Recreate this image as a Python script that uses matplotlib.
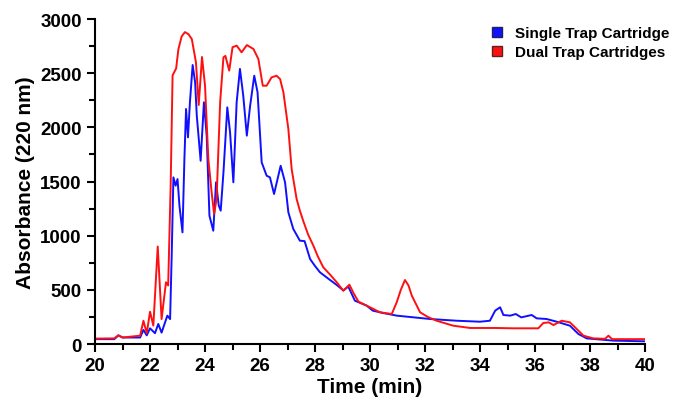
import matplotlib.pyplot as plt
import numpy as np
from matplotlib.lines import Line2D

# Dual trap cartridges (red)
t_dual = [20.0, 20.7, 20.85, 21.0, 21.64, 21.76, 21.88, 22.0, 22.12, 22.28, 22.42, 22.58,
          22.66, 22.75, 22.82, 22.95, 23.03, 23.15, 23.27, 23.4, 23.52, 23.67, 23.77, 23.89, 24.0, 24.12,
          24.24, 24.33, 24.42, 24.55, 24.67, 24.74, 24.88, 25.0, 25.15, 25.33, 25.52, 25.76,
          25.94, 26.1, 26.24, 26.42, 26.6, 26.73, 26.85, 27.03, 27.15, 27.33, 27.45, 27.58,
          27.75, 27.94, 28.1, 28.3, 28.55, 28.79, 29.03, 29.25, 29.4, 29.58, 30.0, 30.36, 30.79,
          30.97, 31.12, 31.27, 31.4, 31.52, 31.82, 32.1, 32.42, 33.03, 33.64, 34.6, 35.2, 36.12,
          36.3, 36.5, 36.67, 36.97, 37.27, 37.52, 37.76, 38.12, 38.55, 38.67, 38.8, 40.0]
a_dual = [50, 52, 80, 60, 77, 215, 100, 298, 170, 900, 230, 570,
          540, 1460, 2480, 2545, 2720, 2840, 2880, 2860, 2815, 2600, 2207, 2650, 2385, 1708,
          1400, 1200, 1340, 2234, 2647, 2660, 2524, 2740, 2755, 2693, 2760, 2724,
          2631, 2385, 2385, 2462, 2477, 2446, 2324, 1985, 1615, 1340, 1230, 1130,
          1010, 908, 810, 708, 640, 570, 492, 548, 470, 391, 339, 293, 277,
          385, 500, 591, 540, 446, 293, 250, 215, 169, 148, 148, 145, 145,
          194, 200, 175, 215, 200, 138, 77, 52, 48, 77, 45, 45]

# Single trap cartridge (blue)
t_single = [20.0, 20.7, 20.85, 21.0, 21.64, 21.76, 21.88, 22.0, 22.18, 22.3, 22.42, 22.63,
            22.73, 22.79, 22.85, 22.93, 23.0, 23.07, 23.18, 23.25, 23.31, 23.38, 23.45, 23.55,
            23.64, 23.7, 23.84, 23.96, 24.06, 24.16, 24.3, 24.4, 24.5, 24.57, 24.67, 24.81,
            24.91, 25.03, 25.15, 25.27, 25.39, 25.52, 25.64, 25.79, 25.91, 26.06, 26.24, 26.36,
            26.51, 26.75, 26.91, 27.03, 27.21, 27.45, 27.62, 27.82, 28.0, 28.18, 28.5, 28.79, 29.03,
            29.21, 29.45, 29.88, 30.1, 30.5, 30.97, 32.18, 33.15, 34.0, 34.36, 34.55, 34.73, 34.85,
            35.1, 35.3, 35.5, 35.88, 36.06, 36.42, 36.79, 37.27, 37.58, 37.88, 38.85, 40.0]
a_single = [45, 45, 80, 60, 60, 130, 80, 145, 100, 185, 105, 262,
            230, 846, 1539, 1462, 1523, 1277, 1031, 1708, 2170, 1908, 2230, 2576,
            2416, 2108, 1692, 2232, 1924, 1185, 1046, 1493, 1277, 1231, 1585, 2185,
            1955, 1493, 2232, 2540, 2293, 1924, 2200, 2477, 2324, 1677, 1554, 1539,
            1385, 1646, 1493, 1216, 1062, 954, 950, 785, 720, 662, 600, 545, 495,
            530, 400, 354, 308, 285, 262, 231, 215, 206, 215, 308, 339, 268,
            262, 277, 246, 268, 237, 231, 206, 169, 92, 52, 31, 25]

plt.rcParams['font.family'] = ['Liberation Sans', 'DejaVu Sans']
plt.rcParams['font.weight'] = 'bold'

fig = plt.figure(figsize=(6.74, 4.10), dpi=100)
ax = fig.add_axes([0.141, 0.1585, 0.816, 0.7925])

ax.plot(t_single, a_single, color='#1010ff', lw=1.4, label='Single Trap Cartridge')
ax.plot(t_dual, a_dual, color='#ff1010', lw=1.4, label='Dual Trap Cartridges')

ax.set_xlim(20, 40)
ax.set_ylim(0, 3000)
ax.set_xticks(np.arange(20, 41, 2))
ax.set_xticks(np.arange(20, 41, 1), minor=True)
ax.set_yticks(np.arange(0, 3001, 500))
ax.set_yticks(np.arange(0, 3001, 250), minor=True)
ax.tick_params(which='both', direction='out', width=1.5, labelsize=13.5)
ax.tick_params(which='major', length=6)
ax.tick_params(which='minor', length=4)
for lab in ax.get_xticklabels() + ax.get_yticklabels():
    lab.set_fontweight('bold')

for side in ['top', 'right']:
    ax.spines[side].set_visible(False)
for side in ['left', 'bottom']:
    ax.spines[side].set_linewidth(1.5)

ax.set_xlabel('Time (min)', fontsize=15, fontweight='bold', labelpad=2)
ax.set_ylabel('Absorbance (220 nm)', fontsize=15, fontweight='bold', labelpad=4)

handles = [Line2D([], [], marker='s', ls='none', markersize=7, markerfacecolor='#1010ff',
                  markeredgecolor='#202060', label='Single Trap Cartridge'),
           Line2D([], [], marker='s', ls='none', markersize=7, markerfacecolor='#ff1010',
                  markeredgecolor='#602020', label='Dual Trap Cartridges')]
ax.legend(handles=handles, loc='upper right', bbox_to_anchor=(1.07, 1.02), frameon=False,
          handletextpad=0.2, labelspacing=0.3, prop={'weight': 'bold', 'size': 11})

fig.savefig('out.png', dpi=100)
